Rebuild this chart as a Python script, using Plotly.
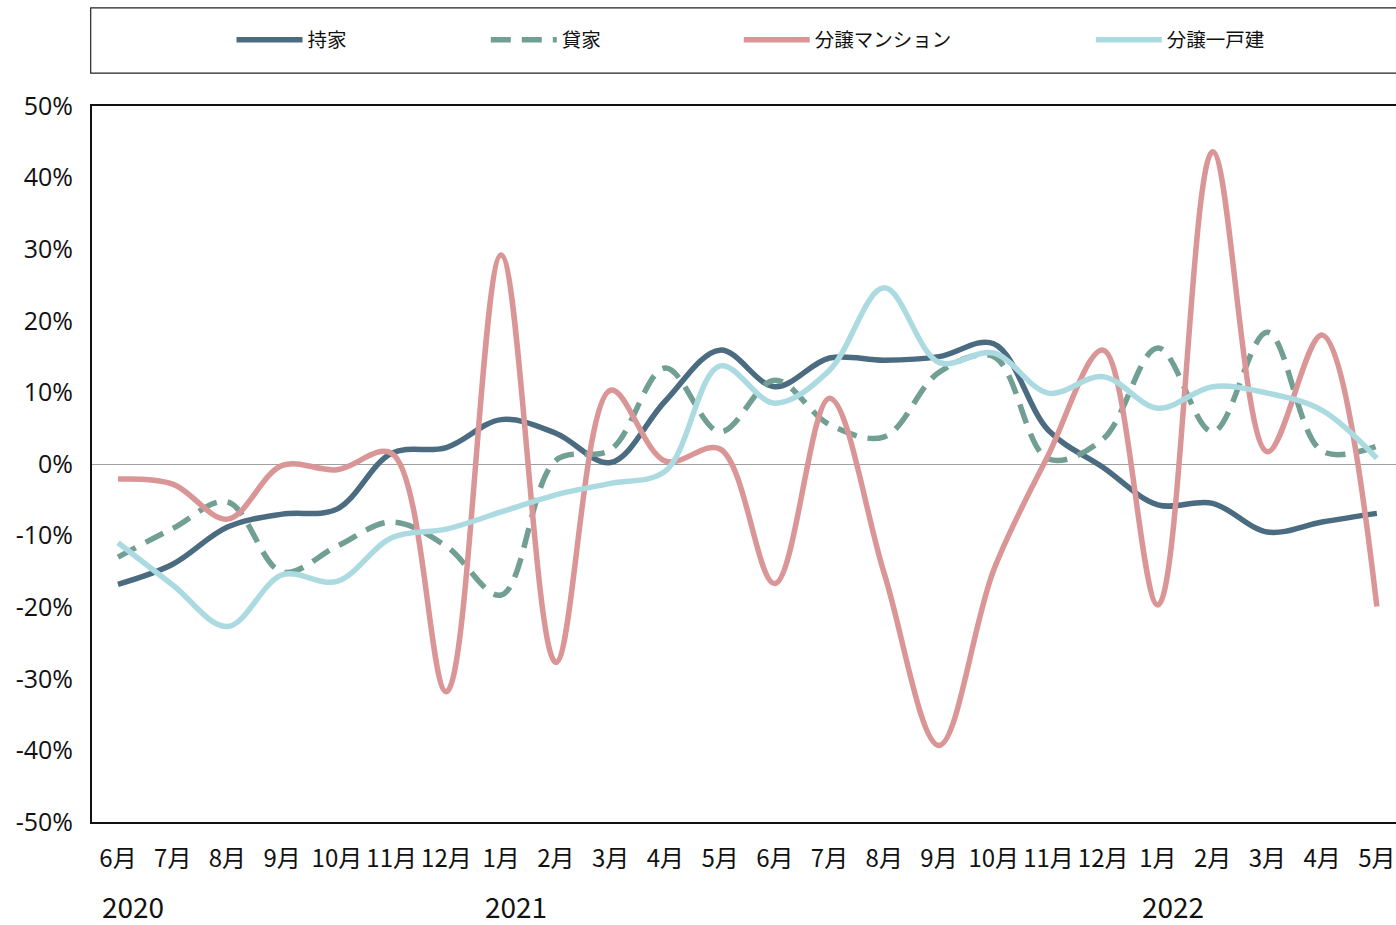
import plotly.graph_objects as go

# Months Jun 2020 - May 2022
months = ["6月", "7月", "8月", "9月", "10月", "11月", "12月",
          "1月", "2月", "3月", "4月", "5月", "6月", "7月", "8月", "9月", "10月", "11月", "12月",
          "1月", "2月", "3月", "4月", "5月"]
years = ["2020", "2021", "2022"]
year_pos = [0, 7, 19]
y_ticks = [-50, -40, -30, -20, -10, 0, 10, 20, 30, 40, 50]
y_labels = ["-50%", "-40%", "-30%", "-20%", "-10%", "0%", "10%", "20%", "30%", "40%", "50%"]

# year-over-year change, %
mochiie = [-16.8, -14.0, -8.8, -7.0, -6.3, 1.5, 2.3, 6.2, 4.3, 0.2, 8.8, 15.9,
           10.8, 14.8, 14.5, 15.0, 16.8, 4.7, -0.5, -5.7, -5.5, -9.5, -8.1, -6.9]
kashiya = [-13.0, -9.0, -5.3, -15.1, -11.5, -8.1, -11.5, -18.3, 0.5, 2.0, 13.4, 4.5,
           11.7, 5.5, 3.8, 12.8, 15.0, 0.7, 3.5, 16.2, 4.5, 18.4, 1.8, 2.5]
mansion = [-2.1, -2.8, -7.7, -0.2, -0.8, 1.5, -31.8, 29.2, -27.7, 10.3, 0.4, 2.1,
           -16.7, 9.2, -15.3, -39.3, -14.8, 1.3, 15.9, -19.7, 43.6, 1.7, 18.0, -19.9]
kodate = [-11.0, -16.9, -22.7, -15.5, -16.4, -10.3, -9.1, -6.7, -4.3, -2.7, -1.0, 13.7,
          8.5, 13.1, 24.6, 14.2, 15.5, 9.9, 12.2, 7.8, 10.8, 9.9, 7.5, 0.8]

series = [
    ("持家", mochiie, "#4a6b80", "solid", "legend"),
    ("貸家", kashiya, "#729f93", "20px,11px", "legend2"),
    ("分譲マンション", mansion, "#da9696", "solid", "legend3"),
    ("分譲一戸建", kodate, "#acdae1", "solid", "legend4"),
]

jp_font = "Noto Sans CJK JP"
x = list(range(len(months)))

fig = go.Figure()

for name, vals, color, dash, leg in series:
    fig.add_trace(go.Scatter(
        x=x, y=vals, name=name, mode="lines",
        line=dict(color=color, width=5.5, dash=dash, shape="spline", smoothing=1),
        legend=leg,
    ))

# legend frame
fig.add_shape(type="rect", xref="paper", yref="paper",
              x0=-0.001, x1=1.01, y0=1.046, y1=1.137,
              line=dict(color="#222222", width=1.2), fillcolor="rgba(0,0,0,0)")

legend_x = [0.107, 0.302, 0.496, 0.766]
legend_common = dict(orientation="h", yanchor="middle", y=1.092, xanchor="left",
                     bgcolor="rgba(0,0,0,0)", itemwidth=66,
                     font=dict(family=jp_font, size=19.5, color="#111111"))
fig.update_layout(
    legend=dict(x=legend_x[0], **legend_common),
    legend2=dict(x=legend_x[1], **legend_common),
    legend3=dict(x=legend_x[2], **legend_common),
    legend4=dict(x=legend_x[3], **legend_common),
)

for yr, pos in zip(years, year_pos):
    fig.add_annotation(x=pos, y=-0.117, xref="x", yref="paper", text=yr,
                       showarrow=False, xshift=15, yanchor="middle",
                       font=dict(family=jp_font, size=28, color="#111111"))

fig.update_layout(
    width=1396, height=925,
    margin=dict(l=92, r=0, t=106, b=103),
    paper_bgcolor="white", plot_bgcolor="white",
    showlegend=True,
    xaxis=dict(
        tickmode="array", tickvals=x, ticktext=months,
        range=[-0.475, 23.35],
        showgrid=False, zeroline=False,
        showline=True, mirror=True, linecolor="#111111", linewidth=2,
        ticks="", ticklabelstandoff=14,
        tickfont=dict(family=jp_font, size=24, color="#111111"),
    ),
    yaxis=dict(
        range=[-50, 50], tickmode="array", tickvals=y_ticks, ticktext=y_labels,
        showgrid=False,
        zeroline=True, zerolinecolor="#a0a0a0", zerolinewidth=1,
        showline=True, mirror=False, linecolor="#111111", linewidth=2,
        ticks="", ticklabelstandoff=12,
        tickfont=dict(family="Open Sans", size=25, color="#111111"),
    ),
)

# drop the default page margin so the figure fills the window exactly
fig.write_html("out.html", config={"displayModeBar": False},
               post_script="document.body.style.margin='0px';")
